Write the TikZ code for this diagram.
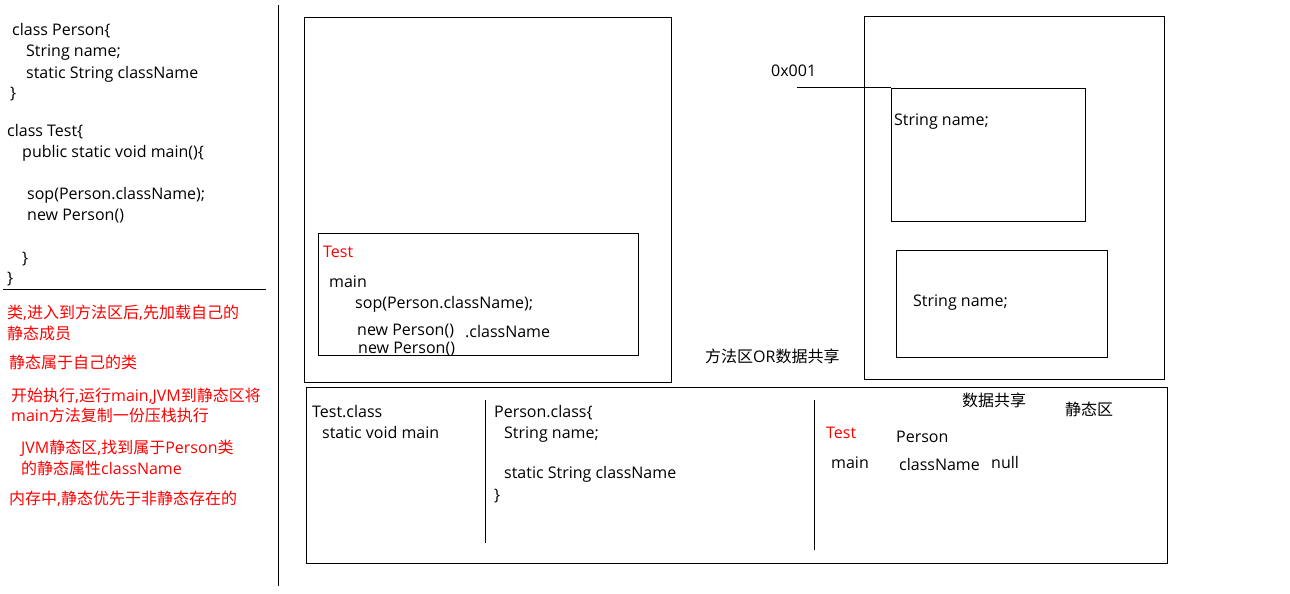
\documentclass[tikz,border=0pt]{standalone}
\usepackage{fontspec}
\setmainfont{Open Sans}
\newfontfamily\cjk{Noto Sans CJK SC}
\newcommand{\zh}[1]{{\cjk #1}}
\usetikzlibrary{positioning}

\tikzset{
  code/.style={anchor=base west, inner sep=0pt, font=\fontsize{16}{20}\selectfont},
  note/.style={code, text=red},
  area/.style={draw, line width=1pt, anchor=north west, inner sep=0pt},
  rule/.style={line width=1pt},
}

\begin{document}
\begin{tikzpicture}[x=1pt, y=-1pt]
\useasboundingbox (0,0) rectangle (1290,594);

% source code on the left
\node[code] (src1) at (12,36) {class Person\{};
\node[code] (src2) at (26,57) {String name;};
\node[code] (src3) at (26,78) {static String className};
\node[code] (src4) at (10,99) {\}};
\node[code] (src5) at (7,136) {class Test\{};
\node[code] (src6) at (22,157) {public static void main()\{};
\node[code] (src7) at (27,199) {sop(Person.className);};
\node[code] (src8) at (27,220) {new Person()};
\node[code] (src9) at (22,263) {\}};
\node[code] (src10) at (7,283) {\}};
\coordinate (cut1) at (3,289);
\coordinate (cut2) at (266,289);
\draw[rule] (cut1) -- (cut2);
\coordinate (sep1) at (278,5);
\coordinate (sep2) at (278,586);
\draw[rule] (sep1) -- (sep2);

% notes
\node[note] (n1) at (7,318) {\zh{类},\zh{进入到方法区后},\zh{先加载自己的}};
\node[note] (n2) at (7,339) {\zh{静态成员}};
\node[note] (n3) at (9,368) {\zh{静态属于自己的类}};
\node[note] (n4) at (11,401) {\zh{开始执行},\zh{运行}main,JVM\zh{到静态区将}};
\node[note] (n5) at (11,421) {main\zh{方法复制一份压栈执行}};
\node[note] (n6) at (21,453) {JVM\zh{静态区},\zh{找到属于}Person\zh{类}};
\node[note] (n7) at (21,474) {\zh{的静态属性}className};
\node[note] (n8) at (9,504) {\zh{内存中},\zh{静态优先于非静态存在的}};

% stack
\node[area, minimum width=367pt, minimum height=365pt] (stack) at (304,17) {};
\node[area, minimum width=320pt, minimum height=122pt] (frame) at (318,233) {};
\node[note] (fTest) at (323,257) {Test};
\node[code] (fMain) at (329,287) {main};
\node[code] (fSop) at (355,308) {sop(Person.className);};
\node[code] (fNew1) at (357,335) {new Person()};
\node[code] (fName) at (465,337) {.className};
\node[code] (fNew2) at (358,353) {new Person()};

% heap
\node[area, minimum width=300pt, minimum height=363pt] (heap) at (864,16) {};
\node[area, minimum width=194pt, minimum height=133pt] (obj1) at (891,88) {};
\node[code] (obj1f) at (894,125) {String name;};
\node[area, minimum width=211pt, minimum height=107pt] (obj2) at (896,250) {};
\node[code] (obj2f) at (913,306) {String name;};
\node[code] (addr) at (771,77) {0x001};
\coordinate (ref) at (797,87);
\draw[rule] (ref) -- (ref -| obj1.west);
\node[code] (share1) at (705,362) {\zh{方法区}OR\zh{数据共享}};

% method area
\node[area, minimum width=861pt, minimum height=176pt] (method) at (306,387) {};
\coordinate (d1a) at (485,400);
\coordinate (d1b) at (485,543);
\draw[rule] (d1a) -- (d1b);
\coordinate (d2a) at (814,400);
\coordinate (d2b) at (814,550);
\draw[rule] (d2a) -- (d2b);
\node[code] (tc1) at (312,417) {Test.class};
\node[code] (tc2) at (322,438) {static void main};
\node[code] (pc1) at (494,417) {Person.class\{};
\node[code] (pc2) at (504,438) {String name;};
\node[code] (pc3) at (504,478) {static String className};
\node[code] (pc4) at (494,500) {\}};
\node[code] (share2) at (962,406) {\zh{数据共享}};
\node[code] (static) at (1065,415) {\zh{静态区}};
\node[note] (sTest) at (826,438) {Test};
\node[code] (sPerson) at (896,442) {Person};
\node[code] (sMain) at (831,468) {main};
\node[code] (sName) at (899,470) {className};
\node[code] (sNull) at (991,468) {null};
\end{tikzpicture}
\end{document}
